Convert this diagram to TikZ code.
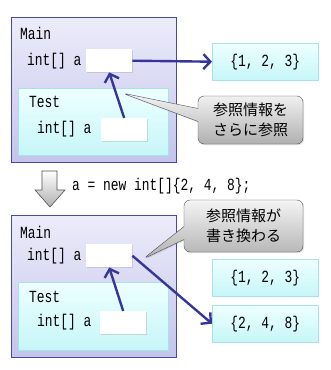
\documentclass[tikz,border=0pt]{standalone}
\usepackage{fontspec}
\setmainfont{Noto Sans CJK JP}
\newfontfamily\codefont[FakeStretch=0.76]{Liberation Mono}
\usetikzlibrary{arrows.meta, positioning, shapes.callouts, shadows}

\definecolor{frameblue}{HTML}{4848A8}
\definecolor{mainTop}{HTML}{ECECFA}
\definecolor{mainBot}{HTML}{C4C4EC}
\definecolor{cyanTop}{HTML}{EEFFFF}
\definecolor{cyanBot}{HTML}{C6F6F8}
\definecolor{cyanLine}{HTML}{A6E2E6}
\definecolor{refblue}{HTML}{36369A}
\definecolor{noteTop}{HTML}{F4F4F4}
\definecolor{noteBot}{HTML}{B0B0B0}
\definecolor{noteLine}{HTML}{505050}

\begin{document}
\begin{tikzpicture}[x=1pt, y=-1pt,
  frame/.style={draw=frameblue, line width=0.8pt, top color=mainTop, bottom color=mainBot, anchor=north west, minimum width=165, minimum height=145, inner sep=0},
  scopebox/.style={draw=cyanLine, top color=cyanTop, bottom color=cyanBot, anchor=north west, minimum width=150, minimum height=67, inner sep=0, drop shadow={opacity=0.2, shadow xshift=1pt, shadow yshift=-1pt}},
  slot/.style={fill=white, anchor=north west, minimum width=46, minimum height=23, inner sep=0, drop shadow={opacity=0.25, shadow xshift=1pt, shadow yshift=-1pt}},
  arraybox/.style={draw=cyanLine, top color=cyanTop, bottom color=cyanBot, anchor=north west, minimum width=106, minimum height=37, inner sep=0, font=\codefont\fontsize{17}{18}\selectfont, drop shadow={opacity=0.2, shadow xshift=1pt, shadow yshift=-1pt}},
  code/.style={anchor=west, inner sep=0, font=\codefont\fontsize{17}{18}\selectfont},
  ref/.style={draw=refblue, line width=2.4pt, -{Straight Barb[length=7pt, width=15pt]}},
  note/.style={rectangle callout, rounded corners=6pt, callout pointer width=13pt, draw=noteLine, top color=noteTop, bottom color=noteBot, align=center, inner sep=0, font=\fontsize{15}{20}\selectfont, text=black, drop shadow={opacity=0.25, shadow xshift=1pt, shadow yshift=-1pt}},
  stepdown/.style={draw=noteLine, top color=white, bottom color=noteBot, line width=0.6pt}
]
\useasboundingbox (0,0) rectangle (330,370);

% Before
\node[frame] (mainA) at (11,17) {};
\node[code] (mainAname) at (20,33) {Main};
\node[code] (varA) at (27,61) {int[] a};
\node[slot] (slotA) at (86,49) {};
\node[scopebox] (testA) at (18,88) {};
\node[code] (testAname) at (29,102) {Test};
\node[code] (varB) at (37,129) {int[] a};
\node[slot] (slotB) at (101,118) {};
\node[arraybox] (arrA) at (212,43) {\{1, 2, 3\}};

\draw[ref] (slotA.east) -- (arrA.west);
\draw[ref] (slotB.north) -- (slotA.south);

\coordinate (tipA) at (122,93);
\node[note, minimum width=105, minimum height=48, callout absolute pointer=(tipA)] (noteA) at (250.5,120) {参照情報を\\さらに参照};

% Step
\path[stepdown] (42,171) -- (57,171) -- (57,190) -- (65,190) -- (50,207) -- (35,190) -- (42,190) -- cycle;
\node[code] (stmt) at (72,186) {a = new int[]\{2, 4, 8\};};

% After
\node[frame, minimum height=142] (mainB) at (11,215) {};
\node[code] (mainBname) at (20,232) {Main};
\node[code] (varC) at (27,256) {int[] a};
\node[slot] (slotC) at (86,244) {};
\node[scopebox, minimum height=68] (testB) at (18,282) {};
\node[code] (testBname) at (29,297) {Test};
\node[code] (varD) at (37,322) {int[] a};
\node[slot] (slotD) at (100,311) {};
\node[arraybox] (arrB) at (212,259) {\{1, 2, 3\}};
\node[arraybox] (arrC) at (212,305) {\{2, 4, 8\}};

\draw[ref] (slotC.east) -- (arrC.west);
\draw[ref] (slotD.north) -- (slotC.south);

\coordinate (tipB) at (143,259);
\node[note, minimum width=119, minimum height=52, callout absolute pointer=(tipB)] (noteB) at (243.5,226) {参照情報が\\書き換わる};
\end{tikzpicture}
\end{document}
